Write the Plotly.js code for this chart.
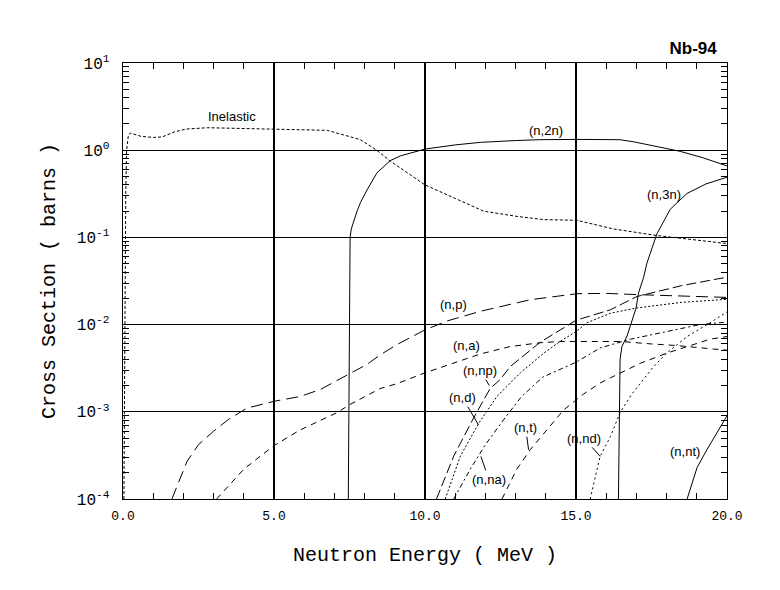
<!DOCTYPE html>
<html>
<head>
<meta charset="utf-8">
<script src="https://cdn.plot.ly/plotly-3.0.1.min.js"></script>
<style>
html,body{margin:0;padding:0;background:#fff;}
#chart{width:780px;height:590px;}
</style>
</head>
<body>
<div id="chart"></div>
<script>
// ---- data (energy in MeV, cross section in barns) ----
const inelE  = [0.03,0.06,0.09,0.12,0.18,0.25,0.4,0.6,1.0,1.3,1.7,2.1,2.8,3.5,5.0,6.0,6.76,7.3,7.86,8.4,8.85,9.2,10.0,11.0,11.94,13.0,13.93,15.03,16.24,17.68,19.0,20.0];
const inelXS = [1e-4,0.01,0.3,1.0,1.5,1.57,1.5,1.44,1.4,1.42,1.62,1.75,1.81,1.79,1.73,1.72,1.69,1.5,1.32,1.0,0.75,0.62,0.40,0.28,0.20,0.175,0.16,0.157,0.125,0.105,0.093,0.085];

const n2nE  = [7.46,7.49,7.52,7.56,7.64,7.75,7.86,8.0,8.08,8.41,8.85,9.18,10.0,11.0,11.83,13.0,13.8,15.0,16.0,16.45,16.9,17.35,18.45,19.2,20.0];
const n2nXS = [1e-4,0.01,0.1,0.125,0.155,0.2,0.25,0.31,0.35,0.55,0.76,0.86,1.03,1.15,1.23,1.29,1.32,1.33,1.33,1.32,1.25,1.16,0.97,0.82,0.66];

const n3nE  = [16.405,16.43,16.44,16.46,16.52,16.69,16.99,17.07,17.24,17.35,17.68,18.12,18.68,19.3,20.0];
const n3nXS = [1e-4,1e-3,2.3e-3,4e-3,5.6e-3,7.4e-3,0.0155,0.023,0.035,0.051,0.11,0.21,0.32,0.41,0.49];

const npE  = [1.62,2.12,2.5,3.0,3.5,4.1,5.0,5.87,6.53,7.49,8.08,8.52,9.07,10.0,10.73,11.83,13.49,15.03,16.0,17.13,18.5,20.0];
const npXS = [1e-4,2.7e-4,4.2e-4,6e-4,8.2e-4,1.1e-3,1.32e-3,1.5e-3,1.8e-3,2.7e-3,3.5e-3,4.5e-3,5.9e-3,8.7e-3,0.011,0.0142,0.0193,0.0226,0.0228,0.022,0.0213,0.0205];

const naE  = [3.1,4.0,5.0,5.87,7.09,7.49,8.52,9.07,10.0,11.83,12.82,13.82,14.5,15.8,16.5,17.5,18.34,19.55,20.0];
const naXS = [1e-4,2.2e-4,4.1e-4,6.2e-4,9.8e-4,1.2e-3,1.85e-3,2.1e-3,2.8e-3,4.6e-3,5.6e-3,6.2e-3,6.4e-3,6.45e-3,6.4e-3,6.0e-3,5.75e-3,5.25e-3,5.1e-3];

const nnpE  = [10.38,10.95,11.61,12.16,12.49,12.82,13.82,15.0,16.14,17.02,18.5,20.0];
const nnpXS = [1e-4,3.1e-4,8.5e-4,1.86e-3,2.34e-3,3.3e-3,6.3e-3,0.0112,0.0148,0.021,0.028,0.035];

const ndE  = [10.67,11.17,11.78,12.38,13.16,13.93,14.5,15.0,15.36,16.14,17.0,18.5,20.0];
const ndXS = [1e-4,3.1e-4,7.4e-4,1.5e-3,2.8e-3,4.7e-3,6.5e-3,8.3e-3,0.0105,0.0135,0.0155,0.018,0.0195];

const nnaE  = [10.95,11.5,12.0,12.6,13.2,13.9,15.0,15.8,16.8,18.0,19.1,20.0];
const nnaXS = [1e-4,2.2e-4,4.2e-4,8.1e-4,1.5e-3,2.5e-3,3.7e-3,5.4e-3,6.8e-3,8.3e-3,0.01,0.0107];

const ntE  = [12.55,13.04,13.49,14.04,14.59,15.25,15.8,16.14,17.13,18.0,19.44,20.0];
const ntXS = [1e-4,2.2e-4,3.7e-4,6.3e-4,1.05e-3,1.6e-3,2.14e-3,2.45e-3,3.6e-3,4.7e-3,6.8e-3,7.3e-3];

const nndE  = [15.47,15.8,16.14,16.46,16.85,17.35,17.57,18.0,18.68,19.44,20.0];
const nndXS = [1e-4,3.1e-4,5.2e-4,9.8e-4,1.6e-3,2.6e-3,3.3e-3,4.7e-3,7.3e-3,0.0105,0.014];

const nntE  = [18.68,19.01,19.34,19.67,19.94,20.0];
const nntXS = [1e-4,2.3e-4,3.7e-4,5.8e-4,8.5e-4,9e-4];

// ---- tick labels ----
const xTickVals = [0,5,10,15,20];
const xTickText = ['0.0','5.0','10.0','15.0','20.0'];
const yTickVals = [1e-4,1e-3,1e-2,1e-1,1,10];
const yTickText = ['10<sup>-4</sup>','10<sup>-3</sup>','10<sup>-2</sup>','10<sup>-1</sup>','10<sup>0</sup>','10<sup>1</sup>'];
const xMinorVals = [1,2,3,4,6,7,8,9,11,12,13,14,16,17,18,19];
const yMinorMant = [2,3,4,5,6,7,8,9];
const yDecades   = [1e-4,1e-3,1e-2,1e-1,1];

// ---- curve labels ----
const labelText = ['Inelastic','(n,2n)','(n,3n)','(n,p)','(n,a)','(n,np)','(n,d)','(n,t)','(n,nd)','(n,na)','(n,nt)'];
const labelE    = [3.62,14.0,17.92,10.95,11.37,12.13,11.77,13.43,15.80,11.85,18.62];
const labelXS   = [2.42,1.69,0.31,0.017,5.8e-3,2.0e-3,7.1e-4,3.67e-4,3.08e-4,3.08e-4,3.55e-4];
const labelAX   = [0,0,0,0,0,-9,-16,-3,-16,8,0];
const labelAY   = [0,0,0,0,0,-15,-27,-22,-18,23,0];

const yMinorVals = [];
yDecades.forEach(d => yMinorMant.forEach(m => yMinorVals.push(m*d)));

// ---- traces ----
function tr(x, y, dash){
  return {x:x, y:y, type:'scatter', mode:'lines', hoverinfo:'skip',
          line:{color:'black', width:1, dash:dash}, showlegend:false};
}
const traces = [
  tr(inelE, inelXS, '3px,2px'),
  tr(n2nE, n2nXS, 'solid'),
  tr(n3nE, n3nXS, 'solid'),
  tr(npE, npXS, '12px,6px'),
  tr(naE, naXS, '6px,5px'),
  tr(nnpE, nnpXS, '10px,4px'),
  tr(ndE, ndXS, '2px,2px'),
  tr(nnaE, nnaXS, '5px,3px,2px,3px'),
  tr(ntE, ntXS, '6px,5px'),
  tr(nndE, nndXS, '2px,3px'),
  tr(nntE, nntXS, 'solid'),
  // empty trace that carries the minor-tick axes
  {x:[], y:[], xaxis:'x2', yaxis:'y2', type:'scatter', mode:'lines', showlegend:false, hoverinfo:'skip'}
];

const annotations = labelText.map((t,i) => {
  const hasArrow = labelAX[i] !== 0 || labelAY[i] !== 0;
  return {
    text: t, x: labelE[i], y: Math.log10(labelXS[i]), xref:'x', yref:'y',
    showarrow: hasArrow, arrowhead:0, arrowwidth:1, arrowcolor:'black',
    ax: labelAX[i], ay: labelAY[i], standoff:0, startstandoff:0,
    font:{family:'Liberation Sans, Arial, sans-serif', size:13, color:'black'},
    xanchor:'center', yanchor:'middle'
  };
});

const monoFont = 'Liberation Mono, DejaVu Sans Mono, monospace';

const layout = {
  width:780, height:590,
  paper_bgcolor:'white', plot_bgcolor:'white',
  margin:{l:123, r:53, t:63, b:91},
  showlegend:false,
  title:{text:'<b>Nb-94</b>', x:0.983, xref:'paper', xanchor:'right',
         y:1-48/590, yref:'container', yanchor:'middle',
         font:{family:'Liberation Sans, Arial, sans-serif', size:17, color:'black'}},
  xaxis:{
    range:[0,20], tickmode:'array', tickvals:xTickVals, ticktext:xTickText,
    ticks:'inside', ticklen:8, tickcolor:'black', tickwidth:1,
    showline:true, linecolor:'black', linewidth:1.3, mirror:'allticks',
    showgrid:true, gridcolor:'black', gridwidth:1.2, zeroline:false,
    tickfont:{family:monoFont, size:13, color:'black'},
    ticklabelstandoff:4,
    title:{text:'Neutron Energy ( MeV )', standoff:24,
           font:{family:monoFont, size:20, color:'black'}}
  },
  yaxis:{
    type:'log', range:[-4,1], tickmode:'array', tickvals:yTickVals, ticktext:yTickText,
    ticks:'inside', ticklen:8, tickcolor:'black', tickwidth:1,
    showline:true, linecolor:'black', linewidth:1.3, mirror:'allticks',
    showgrid:true, gridcolor:'black', gridwidth:1.2, zeroline:false,
    tickfont:{family:monoFont, size:16, color:'black'},
    ticklabelstandoff:9,
    title:{text:'Cross Section ( barns )', standoff:16,
           font:{family:monoFont, size:20, color:'black'}}
  },
  xaxis2:{
    overlaying:'x', anchor:'y2', side:'bottom', range:[0,20],
    tickmode:'array', tickvals:xMinorVals, ticks:'inside', ticklen:6,
    tickcolor:'black', tickwidth:1, showticklabels:false, showgrid:false,
    showline:false, zeroline:false, mirror:'allticks'
  },
  yaxis2:{
    overlaying:'y', anchor:'x2', side:'left', type:'log', range:[-4,1],
    tickmode:'array', tickvals:yMinorVals, ticks:'inside', ticklen:6,
    tickcolor:'black', tickwidth:1, showticklabels:false, showgrid:false,
    showline:false, zeroline:false, mirror:'allticks'
  },
  annotations: annotations
};

Plotly.newPlot('chart', traces, layout, {staticPlot:true, displayModeBar:false});
</script>
</body>
</html>
